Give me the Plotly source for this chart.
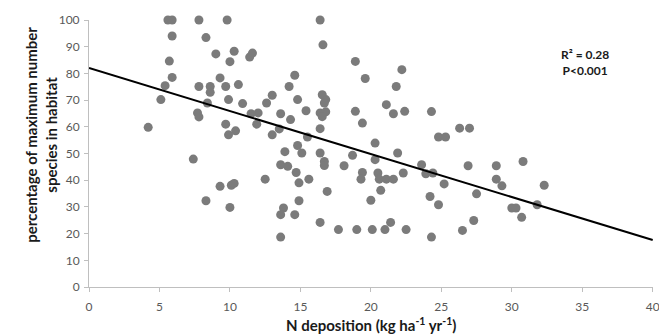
import plotly.graph_objects as go

# Site-level observations: N deposition vs. % of maximum species richness
n_deposition = [
    5.6, 5.9, 7.8, 9.8, 16.4, 5.9, 8.3, 16.6, 9.0, 10.3,
    10.0, 11.4, 11.6, 5.7, 18.9, 22.2, 5.9, 9.3, 14.6, 19.6,
    5.4, 7.8, 8.6, 9.7, 10.6, 14.2, 21.8, 8.6, 13.0, 5.1,
    9.9, 14.8, 8.4, 10.9, 12.6, 16.55, 16.8, 16.7, 16.4, 16.8,
    16.55, 16.4, 21.1, 7.7, 7.8, 15.4, 13.6, 12.0, 11.5, 18.9,
    21.6, 22.4, 24.3, 14.3, 11.9, 9.7, 19.4, 4.2, 10.4, 9.9,
    13.5, 13.0, 15.5, 26.3, 27.0, 24.8, 25.3, 14.8, 20.3, 13.9,
    15.1, 16.4, 18.7, 21.9, 7.4, 16.7, 16.7, 20.3, 30.8, 13.6,
    14.1, 18.1, 23.6, 26.9, 28.9, 14.7, 19.4, 20.5, 22.3, 23.9,
    24.4, 12.5, 15.6, 19.3, 20.6, 21.1, 21.6, 28.9, 14.9, 25.2,
    29.3, 32.3, 9.3, 10.1, 10.3, 16.9, 20.7, 27.5, 24.2, 8.3,
    14.9, 20.0, 24.8, 31.8, 10.0, 13.8, 30.0, 30.3, 13.6, 14.6,
    30.7, 27.3, 16.4, 21.4, 17.7, 19.0, 20.1, 21.0, 22.5, 26.5,
    13.6, 24.3,
]
pct_max_species = [
    100, 100, 100, 100, 100, 94.0, 93.4, 90.7, 87.3, 88.3,
    84.4, 86.1, 87.6, 84.6, 84.5, 81.4, 78.5, 78.3, 79.3, 78.1,
    75.4, 75.1, 75.1, 75.1, 75.8, 75.1, 75.1, 72.9, 71.8, 70.2,
    70.2, 70.2, 68.9, 68.7, 68.9, 72.0, 70.2, 68.9, 65.2, 65.6,
    63.8, 59.3, 68.3, 65.2, 63.7, 66.0, 64.9, 65.2, 64.9, 65.8,
    64.9, 65.8, 65.7, 62.7, 61.0, 61.0, 61.4, 59.8, 58.5, 57.0,
    59.2, 57.0, 56.2, 59.5, 59.5, 56.2, 56.2, 53.0, 53.9, 50.7,
    50.2, 50.2, 49.3, 50.2, 47.9, 47.0, 45.5, 47.7, 47.0, 45.8,
    45.2, 45.4, 45.8, 45.4, 45.4, 42.9, 42.9, 42.7, 42.7, 42.4,
    42.7, 40.4, 40.4, 40.4, 40.4, 40.4, 40.4, 40.4, 39.0, 38.6,
    37.9, 38.1, 37.7, 38.1, 38.8, 35.8, 36.2, 34.9, 33.9, 32.3,
    32.3, 32.5, 30.8, 30.8, 29.8, 29.6, 29.6, 29.6, 27.1, 27.1,
    26.1, 24.9, 24.2, 24.2, 21.5, 21.5, 21.5, 21.5, 21.5, 21.2,
    18.7, 18.7,
]

# Linear fit
fit_intercept = 82.0
fit_slope = -1.61
fit_x = [0, 40]
fit_y = [fit_intercept + fit_slope * x for x in fit_x]

x_ticks = [0, 5, 10, 15, 20, 25, 30, 35, 40]
y_ticks = [0, 10, 20, 30, 40, 50, 60, 70, 80, 90, 100]

FONT = "Lato"
TICK_COLOR = "#595959"
AXIS_COLOR = "#bfbfbf"
TITLE_COLOR = "#1a1a1a"

fig = go.Figure()

fig.add_trace(go.Scatter(
    x=n_deposition, y=pct_max_species, mode="markers",
    marker=dict(color="#7b7b7b", size=9, line=dict(width=0)),
    cliponaxis=False, showlegend=False,
))

fig.add_trace(go.Scatter(
    x=fit_x, y=fit_y, mode="lines",
    line=dict(color="#000000", width=2),
    cliponaxis=False, showlegend=False,
))

fig.update_layout(
    width=659, height=336,
    margin=dict(l=89, r=6, t=20, b=49, autoexpand=False),
    paper_bgcolor="white", plot_bgcolor="white",
    font=dict(family=FONT, size=11, color=TICK_COLOR),
    xaxis=dict(
        range=[0, 40.02], tickvals=x_ticks, showgrid=False, zeroline=False,
        showline=True, linecolor=AXIS_COLOR, linewidth=1,
        ticks="outside", ticklen=4, tickcolor=AXIS_COLOR,
        ticklabelstandoff=5, ticklabeloverflow="allow", automargin=False,
        tickfont=dict(family=FONT, size=12, color=TICK_COLOR),
    ),
    yaxis=dict(
        range=[0, 100], tickvals=y_ticks, showgrid=False, zeroline=False,
        showline=True, linecolor=AXIS_COLOR, linewidth=1,
        ticks="outside", ticklen=4, tickcolor=AXIS_COLOR,
        ticklabelstandoff=2, automargin=False,
        tickfont=dict(family=FONT, size=12, color=TICK_COLOR),
    ),
    annotations=[
        dict(
            text="<b>N deposition (kg ha<sup>-1</sup> yr<sup>-1</sup>)</b>",
            xref="paper", yref="paper", x=0.5, y=-0.14,
            xanchor="center", yanchor="middle", showarrow=False,
            font=dict(family=FONT, size=15, color=TITLE_COLOR),
        ),
        dict(
            text="<b>percentage of maximum number<br>species in habitat</b>",
            xref="paper", yref="paper", x=-0.085, y=0.57,
            xanchor="center", yanchor="middle", showarrow=False,
            textangle=-90,
            font=dict(family=FONT, size=15, color=TITLE_COLOR),
        ),
        dict(
            text="<b>R² = 0.28<br>P<0.001</b>",
            xref="paper", yref="paper", x=0.88, y=0.84,
            xanchor="center", yanchor="middle", showarrow=False,
            font=dict(family=FONT, size=12, color=TITLE_COLOR),
        ),
    ],
)

fig.write_html("out.html")
